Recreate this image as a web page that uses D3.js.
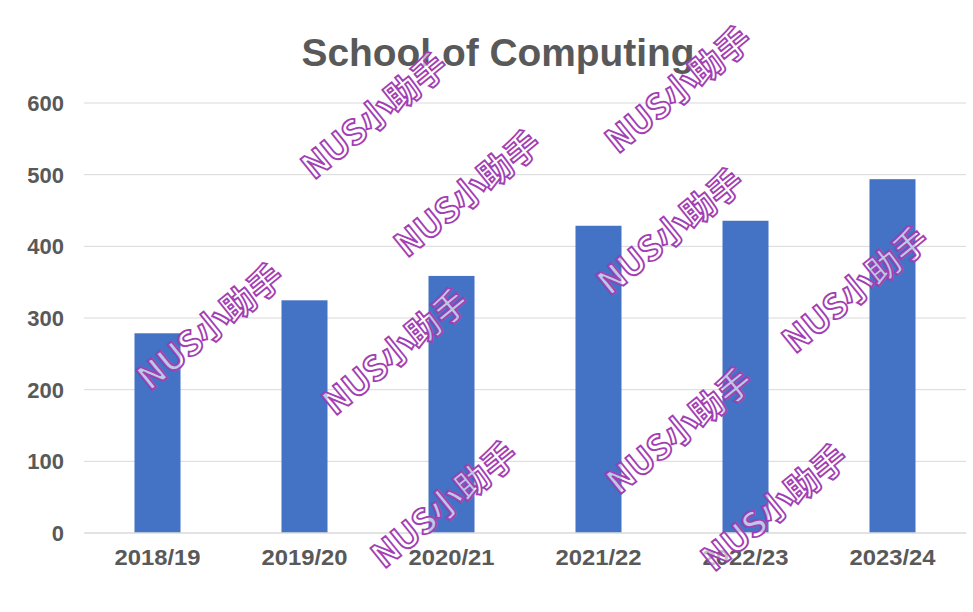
<!DOCTYPE html>
<html>
<head>
<meta charset="utf-8">
<script src="https://cdn.jsdelivr.net/npm/d3@7"></script>
<style>
  html, body { margin: 0; padding: 0; background: #ffffff; }
  svg { display: block; }
</style>
</head>
<body>
<svg id="chart" width="973" height="612"></svg>
<script>
// ---- data ----
const categories = ["2018/19", "2019/20", "2020/21", "2021/22", "2022/23", "2023/24"];
const values = [278, 324, 358, 428, 435, 493];
const yTicks = [0, 100, 200, 300, 400, 500, 600];
const titleText = "School of Computing";
const watermarkText = "NUS小助手";

// ---- layout ----
const W = 973, H = 612;
const plot = { left: 84, right: 966, top: 102.5, bottom: 532.5 };
const watermarkCenters = [
  [373, 114], [466, 192], [677, 88], [209, 325], [394, 350],
  [443, 503], [669, 230], [854, 288], [678, 429], [773, 506]
];

const svg = d3.select("#chart");
svg.append("rect").attr("width", W).attr("height", H).attr("fill", "#ffffff");

const x = d3.scaleBand()
  .domain(categories)
  .range([plot.left, plot.right])
  .paddingInner(0.687)
  .paddingOuter(0.3435);

const y = d3.scaleLinear()
  .domain([0, 600])
  .range([plot.bottom, plot.top]);

const fontFamily = "'Liberation Sans', Arial, Helvetica, sans-serif";
const textColor = "#595959";

// gridlines + y tick labels
const yAxis = d3.axisLeft(y)
  .tickValues(yTicks)
  .tickSize(-(plot.right - plot.left))
  .tickPadding(20)
  .tickFormat(d3.format("d"));

const gy = svg.append("g")
  .attr("transform", `translate(${plot.left},0)`)
  .call(yAxis);
gy.select(".domain").remove();
gy.selectAll(".tick line").attr("stroke", "#d9d9d9").attr("stroke-width", 1);
gy.selectAll(".tick text")
  .attr("fill", textColor)
  .attr("font-family", fontFamily)
  .attr("font-weight", "bold")
  .attr("font-size", 22)
  .attr("dy", "0.36em");

// bars
svg.append("g")
  .selectAll("rect")
  .data(values)
  .join("rect")
  .attr("x", (d, i) => x(categories[i]))
  .attr("y", d => y(d))
  .attr("width", x.bandwidth())
  .attr("height", d => y(0) - y(d))
  .attr("fill", "#4472c4");

// x axis
const xAxis = d3.axisBottom(x).tickSize(0).tickPadding(17);
const gx = svg.append("g")
  .attr("transform", `translate(0,${plot.bottom})`)
  .call(xAxis);
gx.select(".domain").attr("stroke", "#d9d9d9");
gx.selectAll(".tick text")
  .attr("fill", textColor)
  .attr("font-family", fontFamily)
  .attr("font-weight", "bold")
  .attr("font-size", 22.5)
  .attr("textLength", 86)
  .attr("lengthAdjust", "spacingAndGlyphs");

// title
svg.append("text")
  .attr("x", 498)
  .attr("y", 66)
  .attr("text-anchor", "middle")
  .attr("fill", textColor)
  .attr("font-family", fontFamily)
  .attr("font-weight", "bold")
  .attr("font-size", 38)
  .attr("textLength", 393)
  .attr("lengthAdjust", "spacingAndGlyphs")
  .text(titleText);

// watermarks
const wm = svg.append("g").attr("class", "watermarks");
wm.selectAll("text")
  .data(watermarkCenters)
  .join("text")
  .attr("transform", d => `translate(${d[0]},${d[1]}) rotate(-39)`)
  .attr("text-anchor", "middle")
  .attr("dominant-baseline", "central")
  .attr("font-family", "'Noto Sans CJK SC', 'Liberation Sans', sans-serif")
  .attr("font-weight", "bold")
  .attr("font-size", 34)
  .attr("textLength", 176)
  .attr("lengthAdjust", "spacingAndGlyphs")
  .attr("fill", "rgba(255,255,255,0.65)")
  .attr("stroke", "#a23fb3")
  .attr("stroke-width", 1.8)
  .text(watermarkText);
</script>
</body>
</html>
